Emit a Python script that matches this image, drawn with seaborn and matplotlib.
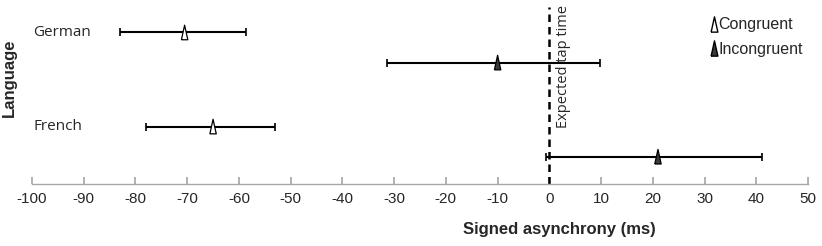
import numpy as np
import pandas as pd
import matplotlib
matplotlib.use("Agg")
import matplotlib.pyplot as plt
from matplotlib.lines import Line2D
import seaborn as sns

# --- dados ---
languages = ["German", "German", "French", "French"]
conditions = ["Congruent", "Incongruent", "Congruent", "Incongruent"]
means = [-70.5, -10.0, -65.0, 21.0]
err_low = [-83.0, -31.3, -78.0, -0.6]
err_high = [-58.6, 9.8, -53.0, 41.2]
x_ticks = list(range(-100, 51, 10))

df = pd.DataFrame({"language": languages, "condition": conditions,
                   "mean": means, "low": err_low, "high": err_high})
lang_pos = {"German": 0, "French": 1}
cond_off = {"Congruent": -0.16, "Incongruent": 0.16}
df["y"] = df["language"].map(lang_pos) + df["condition"].map(cond_off)

sns.set_theme(style="white")
plt.rcParams["font.family"] = ["Liberation Sans", "DejaVu Sans"]

fig = plt.figure(figsize=(8.22, 2.46), dpi=100)
ax = fig.add_axes([32 / 822, 62 / 246, 776 / 822, 184 / 246])

# barras de erro
ax.errorbar(df["mean"], df["y"],
            xerr=[df["mean"] - df["low"], df["high"] - df["mean"]],
            fmt="none", ecolor="black", elinewidth=1.5, capsize=3, capthick=1.2, zorder=2)

# marcadores (triângulo estreito, fechado)
tri = [(-0.22, -0.5), (0.22, -0.5), (0.0, 0.5), (-0.22, -0.5)]
sns.scatterplot(data=df, x="mean", y="y", hue="condition", style="condition",
                markers={"Congruent": tri, "Incongruent": tri},
                palette={"Congruent": "white", "Incongruent": "#3a3a3a"},
                edgecolor="black", linewidth=0.9, s=110, legend=False, ax=ax, zorder=3)

# linha do tempo esperado
ax.axvline(0, ymin=0, ymax=0.96, color="black", lw=1.8, ls=(0, (3, 2)), zorder=1)
ax.text(1.3, 0.86, "Expected tap time", rotation=90, ha="left", va="bottom",
        fontsize=10.5, family=["Open Sans", "DejaVu Sans"])

# rótulos das línguas dentro do gráfico
for lang, pos in lang_pos.items():
    ax.text(-99.8, pos - 0.16, lang, ha="left", va="center", fontsize=11,
            family=["Open Sans", "DejaVu Sans"])

ax.set_xlim(-100, 50)
ax.set_ylim(1.45, -0.505)
ax.set_xticks(x_ticks)
ax.set_xticklabels([str(t) for t in x_ticks], fontsize=11)
ax.set_yticks([])
ax.tick_params(axis="x", direction="in", length=5, color="#a8a8a8", pad=6, bottom=True)

for s in ["top", "right", "left"]:
    ax.spines[s].set_visible(False)
ax.spines["bottom"].set_color("#a8a8a8")
ax.spines["bottom"].set_linewidth(1.0)

ax.set_xlabel("Signed asynchrony (ms)", fontsize=12, fontweight="bold")
ax.xaxis.set_label_coords(0.68, -0.205)
ax.set_ylabel("Language", fontsize=12, fontweight="bold")
ax.yaxis.set_label_coords(-0.019, 0.58)

handles = [Line2D([], [], marker=tri, color="none", markerfacecolor=c,
                  markeredgecolor="black", markersize=11, label=l)
           for l, c in [("Congruent", "white"), ("Incongruent", "#3a3a3a")]]
ax.legend(handles=handles, loc="upper right", bbox_to_anchor=(1.012, 0.985), frameon=False,
          handlelength=0.4, handletextpad=0.1, labelspacing=0.6, fontsize=11.5)

fig.savefig("out.png", dpi=100)
